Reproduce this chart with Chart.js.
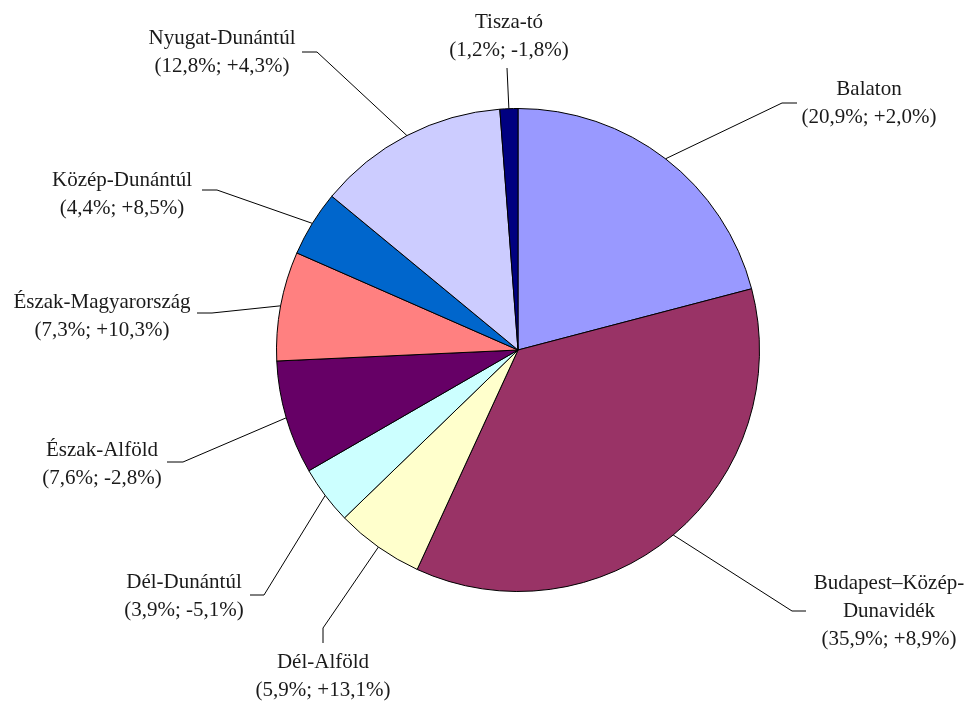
<!DOCTYPE html>
<html>
<head>
<meta charset="utf-8">
<script src="https://cdn.jsdelivr.net/npm/chart.js@4.4.1/dist/chart.umd.min.js"></script>
<style>
  body { margin: 0; background: #fff; }
  #wrap { width: 968px; height: 702px; }
</style>
</head>
<body>
<div id="wrap"><canvas id="pieChart" width="968" height="702"></canvas></div>
<script>
// régiók, részesedés (%) és változás (%)
const regions = ["Balaton", "Budapest–Közép-Dunavidék", "Dél-Alföld", "Dél-Dunántúl", "Észak-Alföld",
    "Észak-Magyarország", "Közép-Dunántúl", "Nyugat-Dunántúl", "Tisza-tó"];
const shares = [20.9, 35.9, 5.9, 3.9, 7.6, 7.3, 4.4, 12.8, 1.2];
const changes = [2.0, 8.9, 13.1, -5.1, -2.8, 10.3, 8.5, 4.3, -1.8];
const colors = ["#9999FF", "#993366", "#FFFFCC", "#CCFFFF", "#660066", "#FF8080", "#0066CC", "#CCCCFF", "#000080"];

// label placement: text centre x, first line y, elbow point and end of the leader line
const labelPos = [
    { cx: 869, y: 89, elbow: [782, 103], end: [797, 103] },
    { cx: 889, y: 583, elbow: [792, 611], end: [806, 611], lines: ["Budapest–Közép-", "Dunavidék"] },
    { cx: 323, y: 662, elbow: [323, 628], end: [323, 643] },
    { cx: 184, y: 582, elbow: [264, 595], end: [250, 595] },
    { cx: 102, y: 450, elbow: [183, 462], end: [167, 462] },
    { cx: 102, y: 302, elbow: [212, 313], end: [197, 313] },
    { cx: 122, y: 180, elbow: [217, 190], end: [202, 190] },
    { cx: 222, y: 38, elbow: [317, 52], end: [302, 52] },
    { cx: 509, y: 22, elbow: [507, 68], end: [507, 68] }
];

function fmt(v) {
    return v.toFixed(1).replace(".", ",") + "%";
}

const leaderLabels = {
    id: "leaderLabels",
    afterDatasetsDraw(chart) {
        const ctx = chart.ctx;
        const arcs = chart.getDatasetMeta(0).data;
        ctx.save();
        arcs.forEach((arc, i) => {
            const p = arc.getProps(["x", "y", "startAngle", "endAngle", "outerRadius"], true);
            const mid = (p.startAngle + p.endAngle) / 2;
            const sx = p.x + Math.cos(mid) * p.outerRadius;
            const sy = p.y + Math.sin(mid) * p.outerRadius;
            const lp = labelPos[i];

            ctx.strokeStyle = "#000";
            ctx.lineWidth = 1;
            ctx.beginPath();
            ctx.moveTo(sx, sy);
            ctx.lineTo(lp.elbow[0], lp.elbow[1]);
            ctx.lineTo(lp.end[0], lp.end[1]);
            ctx.stroke();

            const sign = changes[i] > 0 ? "+" : "";
            const lines = (lp.lines || [regions[i]]).concat("(" + fmt(shares[i]) + "; " + sign + fmt(changes[i]) + ")");
            ctx.fillStyle = "#1a1a1a";
            ctx.font = "21px 'Liberation Serif'";
            ctx.textAlign = "center";
            ctx.textBaseline = "middle";
            lines.forEach((t, k) => ctx.fillText(t, lp.cx, lp.y + k * 28));
        });
        ctx.restore();
    }
};

new Chart(document.getElementById("pieChart"), {
    type: "pie",
    data: {
        labels: regions,
        datasets: [{
            data: shares,
            backgroundColor: colors,
            borderColor: "#000",
            borderWidth: 1
        }]
    },
    options: {
        responsive: false,
        animation: false,
        devicePixelRatio: 1,
        layout: { padding: { left: 276, right: 208, top: 108, bottom: 110 } },
        plugins: {
            legend: { display: false },
            tooltip: { enabled: false }
        }
    },
    plugins: [leaderLabels]
});
</script>
</body>
</html>
